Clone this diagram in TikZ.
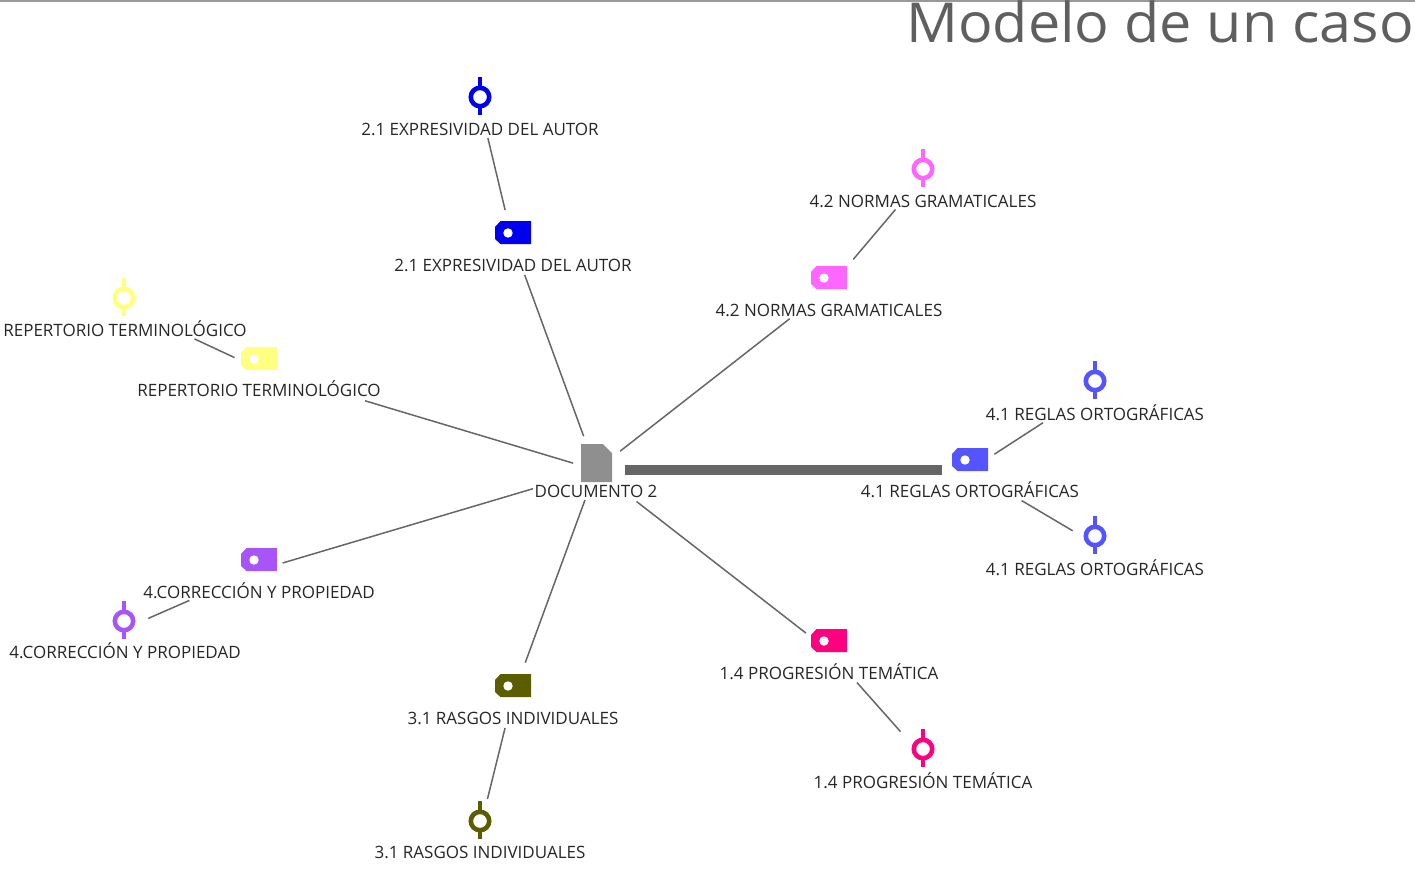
\documentclass[tikz,border=0pt]{standalone}
\usepackage{fontspec}
\setmainfont{Open Sans}
\definecolor{docgray}{HTML}{8F8F8F}
\definecolor{linkgray}{HTML}{666666}
\definecolor{titlegray}{HTML}{5F5F5F}
\definecolor{autorblue}{HTML}{0000EE}
\definecolor{gramapink}{HTML}{FF66FF}
\definecolor{repyellow}{HTML}{FFFF80}
\definecolor{reglablue}{HTML}{5555FF}
\definecolor{corrpurple}{HTML}{A855F7}
\definecolor{rasgolive}{HTML}{5C5C00}
\definecolor{progpink}{HTML}{FF0080}
\newcommand\cattextstyle{\fontsize{17}{20}\selectfont}
\tikzset{
  catlabel/.style={anchor=base, inner sep=0pt, text=black!85, font=\cattextstyle},
  catlink/.style={draw=linkgray, line width=1.5pt},
  catheavy/.style={draw=linkgray, line width=10pt}
}
\newcommand\doctag[4]{
  \fill[#3] (#1-12.5,#2-12) -- (#1+18,#2-12) -- (#1+18,#2+11) -- (#1-12.5,#2+11) -- (#1-18,#2+6) -- (#1-18,#2-6) -- cycle ;
  \fill[white] (#1-5,#2) circle (4.7) ;
  \coordinate (#4) at (#1,#2+10) ;
}
\newcommand\docmark[4]{
  \draw[#3, line width=4.8pt] (#1,#2-20) -- (#1,#2-9) (#1,#2+9) -- (#1,#2+18) ;
  \draw[#3, line width=4.6pt] (#1,#2) circle (9.2) ;
  \coordinate (#4) at (#1,#2+8) ;
}
\begin{document}
\begin{tikzpicture}[x=1pt, y=-1pt]
    \useasboundingbox (0,0) rectangle (1415,868) ;
    \draw[black!40, line width=3.5pt] (0,0) -- (1415,0) ;
    \node[anchor=base east, inner sep=0pt, xscale=1.045, text=titlegray, font=\fontsize{55}{66}\selectfont] (title) at (1414,42) {Modelo de un caso} ;

    \fill[docgray] (581,444) -- (603,444) -- (612,453) -- (612,482) -- (581,482) -- cycle ;
    \coordinate (doc) at (596,470) ;
    \node[catlabel] (doclabel) at (596,497) {DOCUMENTO 2} ;

    \doctag{513}{233}{autorblue}{tagAutor}
    \docmark{480}{97}{autorblue}{markAutor}
    \node[catlabel] (tagAutortext) at (513,271) {2.1 EXPRESIVIDAD DEL AUTOR} ;
    \node[catlabel] (markAutortext) at (480,135) {2.1 EXPRESIVIDAD DEL AUTOR} ;

    \doctag{829}{278}{gramapink}{tagGrama}
    \docmark{923}{169}{gramapink}{markGrama}
    \node[catlabel] (tagGramatext) at (829,316) {4.2 NORMAS GRAMATICALES} ;
    \node[catlabel] (markGramatext) at (923,207) {4.2 NORMAS GRAMATICALES} ;

    \doctag{259}{359}{repyellow}{tagRep}
    \docmark{124}{298}{repyellow}{markRep}
    \node[catlabel] (tagReptext) at (259,396) {REPERTORIO TERMINOLÓGICO} ;
    \node[catlabel] (markReptext) at (125,336) {REPERTORIO TERMINOLÓGICO} ;

    \doctag{970}{460}{reglablue}{tagRegla}
    \docmark{1095}{381}{reglablue}{markReglaA}
    \docmark{1095}{536}{reglablue}{markReglaB}
    \node[catlabel] (tagReglatext) at (970,497) {4.1 REGLAS ORTOGRÁFICAS} ;
    \node[catlabel] (markReglaAtext) at (1095,420) {4.1 REGLAS ORTOGRÁFICAS} ;
    \node[catlabel] (markReglaBtext) at (1095,575) {4.1 REGLAS ORTOGRÁFICAS} ;

    \doctag{259}{560}{corrpurple}{tagCorr}
    \docmark{124}{621}{corrpurple}{markCorr}
    \node[catlabel] (tagCorrtext) at (259,598) {4.CORRECCIÓN Y PROPIEDAD} ;
    \node[catlabel] (markCorrtext) at (125,658) {4.CORRECCIÓN Y PROPIEDAD} ;

    \doctag{513}{686}{rasgolive}{tagRasgo}
    \docmark{480}{821}{rasgolive}{markRasgo}
    \node[catlabel] (tagRasgotext) at (513,724) {3.1 RASGOS INDIVIDUALES} ;
    \node[catlabel] (markRasgotext) at (480,858) {3.1 RASGOS INDIVIDUALES} ;

    \doctag{829}{641}{progpink}{tagProg}
    \docmark{923}{749}{progpink}{markProg}
    \node[catlabel] (tagProgtext) at (829,679) {1.4 PROGRESIÓN TEMÁTICA} ;
    \node[catlabel] (markProgtext) at (923,788) {1.4 PROGRESIÓN TEMÁTICA} ;

    \draw[catlink, shorten <=36pt, shorten >=34pt] (doc) -- (tagAutor) ;
    \draw[catlink, shorten <=30.6pt, shorten >=49.8pt] (doc) -- (tagGrama) ;
    \draw[catlink, shorten <=23.8pt, shorten >=110.7pt] (doc) -- (tagRep) ;
    \draw[catheavy, shorten <=29pt, shorten >=28pt] (doc) -- (tagRegla) ;
    \draw[catlink, shorten <=65.8pt, shorten >=24.7pt] (doc) -- (tagCorr) ;
    \draw[catlink, shorten <=32pt, shorten >=35.5pt] (doc) -- (tagRasgo) ;
    \draw[catlink, shorten <=51.4pt, shorten >=29.2pt] (doc) -- (tagProg) ;
    \draw[catlink, shorten <=34pt, shorten >=34pt] (tagAutor) -- (markAutor) ;
    \draw[catlink, shorten <=37.5pt, shorten >=42.6pt] (tagGrama) -- (markGrama) ;
    \draw[catlink, shorten <=27pt, shorten >=77.8pt] (tagRep) -- (markRep) ;
    \draw[catlink, shorten <=29pt, shorten >=62pt] (tagRegla) -- (markReglaA) ;
    \draw[catlink, shorten <=60pt, shorten >=26pt] (tagRegla) -- (markReglaB) ;
    \draw[catlink, shorten <=76pt, shorten >=26.5pt] (tagCorr) -- (markCorr) ;
    \draw[catlink, shorten <=33pt, shorten >=31pt] (tagRasgo) -- (markRasgo) ;
    \draw[catlink, shorten <=42pt, shorten >=34pt] (tagProg) -- (markProg) ;
\end{tikzpicture}
\end{document}
